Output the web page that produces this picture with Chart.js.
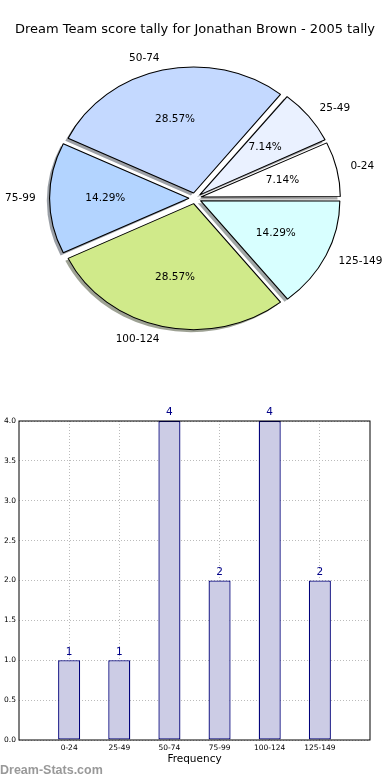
<!DOCTYPE html>
<html>
<head>
<meta charset="utf-8">
<script src="https://cdn.jsdelivr.net/npm/chart.js@4.4.1/dist/chart.umd.min.js"></script>
<style>
  html, body { margin: 0; padding: 0; background: #fff; }
  #page { position: relative; width: 390px; height: 780px; }
  .box { position: absolute; left: 0; width: 390px; }
  #pieBox { top: 0; height: 362px; }
  #barBox { top: 400px; height: 380px; }
  #brand { position: absolute; left: 0; top: 763px; font: bold 12.5px "Liberation Sans"; color: #999; }
</style>
</head>
<body>
<div id="page">
  <div class="box" id="pieBox"><canvas id="pieChart"></canvas></div>
  <div class="box" id="barBox"><canvas id="barChart"></canvas></div>
  <div id="brand">Dream-Stats.com</div>
</div>
<script>
const TITLE = 'Dream Team score tally for Jonathan Brown - 2005 tally';
const categories = ['0-24', '25-49', '50-74', '75-99', '100-124', '125-149'];
const counts = [1, 1, 4, 2, 4, 2];
const sliceColors = ['#FFFFFF', '#EAF1FF', '#C4D9FF', '#B3D4FF', '#D0EA8A', '#D8FFFF'];
const yTicks = [0, 0.5, 1, 1.5, 2, 2.5, 3, 3.5, 4];

Chart.defaults.font.family = '"DejaVu Sans"';
Chart.defaults.color = '#000';

const total = counts.reduce((a, b) => a + b, 0);

// chart.js goes clockwise, matplotlib counter-clockwise -> feed it reversed
const pieLabels = categories.slice().reverse();
const pieValues = counts.slice().reverse();
const pieColors = sliceColors.slice().reverse();

const PIE_RADIUS = 126;
const EXPLODE = 5.5;    // px along each slice's mid angle
const STRETCH = 1.106;  // the original axes were wider than tall

function pieCenter(chart) {
  const a = chart.chartArea;
  return { x: (a.left + a.right) / 2, y: (a.top + a.bottom) / 2 };
}

function shadowOf(hex) {
  const n = parseInt(hex.slice(1), 16);
  const r = Math.round(((n >> 16) & 255) * 0.3);
  const g = Math.round(((n >> 8) & 255) * 0.3);
  const b = Math.round((n & 255) * 0.3);
  return `rgba(${r},${g},${b},0.5)`;
}

const pieLook = {
  id: 'pieLook',
  afterDatasetUpdate(chart) {
    // chart.js grows narrow exploded slices, matplotlib doesn't
    chart.getDatasetMeta(0).data.forEach(arc => {
      const circ = arc.endAngle - arc.startAngle;
      arc.outerRadius = PIE_RADIUS - EXPLODE * (1 - Math.sin(Math.min(Math.PI, circ)));
    });
  },
  beforeDatasetsDraw(chart) {
    const ctx = chart.ctx;
    const c = pieCenter(chart);
    ctx.save();
    ctx.translate(c.x, c.y);
    ctx.scale(STRETCH, 1);
    ctx.translate(-c.x, -c.y);
    // drop shadow under all wedges
    chart.getDatasetMeta(0).data.forEach((arc, i) => {
      const mid = (arc.startAngle + arc.endAngle) / 2;
      const x = c.x + Math.cos(mid) * EXPLODE - 2.5;
      const y = c.y + Math.sin(mid) * EXPLODE + 2.5;
      ctx.fillStyle = shadowOf(pieColors[i]);
      ctx.beginPath();
      ctx.moveTo(x, y);
      ctx.arc(x, y, PIE_RADIUS, arc.startAngle, arc.endAngle);
      ctx.closePath();
      ctx.fill();
    });
  },
  afterDatasetsDraw(chart) {
    const ctx = chart.ctx;
    ctx.restore();
    const c = pieCenter(chart);
    ctx.save();
    ctx.fillStyle = '#000';
    ctx.textBaseline = 'middle';
    ctx.font = '10.5px "DejaVu Sans"';
    chart.getDatasetMeta(0).data.forEach((arc, i) => {
      const mid = (arc.startAngle + arc.endAngle) / 2;
      const cos = Math.cos(mid), sin = Math.sin(mid);
      const ox = c.x + cos * EXPLODE * STRETCH;
      const oy = c.y + sin * EXPLODE;
      const pct = (pieValues[i] / total * 100).toFixed(2) + '%';
      ctx.textAlign = 'center';
      ctx.fillText(pct, ox + cos * 0.6 * PIE_RADIUS * STRETCH, oy + sin * 0.6 * PIE_RADIUS);
      ctx.textAlign = cos > 0 ? 'left' : 'right';
      ctx.fillText(pieLabels[i], ox + cos * 1.1 * PIE_RADIUS * STRETCH, oy + sin * 1.1 * PIE_RADIUS);
    });
    ctx.restore();
  }
};

new Chart(document.getElementById('pieChart'), {
  type: 'pie',
  data: {
    labels: pieLabels,
    datasets: [{
      data: pieValues,
      backgroundColor: pieColors,
      borderColor: '#000',
      borderWidth: 1,
      offset: EXPLODE * 4,
      rotation: 90,
      radius: PIE_RADIUS
    }]
  },
  options: {
    responsive: true,
    maintainAspectRatio: false,
    animation: false,
    events: [],
    layout: { padding: { bottom: 3 } },
    plugins: {
      legend: { display: false },
      tooltip: { enabled: false },
      title: {
        display: true,
        text: TITLE,
        color: '#000',
        font: { size: 13, weight: 'normal' },
        padding: { top: 22, bottom: 0 }
      }
    }
  },
  plugins: [pieLook]
});

const barExtras = {
  id: 'barExtras',
  afterDraw(chart) {
    const ctx = chart.ctx;
    const a = chart.chartArea;
    ctx.save();
    ctx.strokeStyle = '#000';
    ctx.lineWidth = 1;
    ctx.strokeRect(a.left, a.top, a.right - a.left, a.bottom - a.top);
    ctx.fillStyle = '#000088';
    ctx.font = '10.5px "DejaVu Sans"';
    ctx.textAlign = 'center';
    ctx.textBaseline = 'bottom';
    chart.getDatasetMeta(0).data.forEach((bar, i) => {
      ctx.fillText(String(counts[i]), bar.x, bar.y - 3);
    });
    ctx.restore();
  }
};

const gridStyle = { color: '#bbbbbb', lineWidth: 1, drawTicks: false, offset: false };
const tickFont = { size: 7.5 };

new Chart(document.getElementById('barChart'), {
  type: 'bar',
  data: {
    datasets: [{
      data: counts.map((v, i) => ({ x: i, y: v })),
      backgroundColor: '#CCCCE5',
      borderColor: '#00007a',
      borderWidth: 1.3,
      borderSkipped: false,
      categoryPercentage: 1,
      barPercentage: 0.44
    }]
  },
  options: {
    responsive: true,
    maintainAspectRatio: false,
    animation: false,
    events: [],
    layout: { padding: { top: 21, right: 20, left: 0, bottom: 0 } },
    plugins: { legend: { display: false }, tooltip: { enabled: false } },
    scales: {
      x: {
        type: 'linear',
        min: -1,
        max: categories.length,
        offset: false,
        z: 1,
        afterBuildTicks: s => { s.ticks = categories.map((c, i) => ({ value: i })); },
        afterFit: s => { s.height = 40; },
        grid: gridStyle,
        border: { display: false, dash: [1, 2] },
        ticks: {
          padding: 4,
          font: tickFont,
          maxRotation: 0,
          autoSkip: false,
          callback: v => categories[v] ?? ''
        },
        title: {
          display: true,
          text: 'Frequency',
          font: { size: 10.5 },
          padding: { top: 0, bottom: 14 }
        }
      },
      y: {
        min: 0,
        max: 4,
        z: 1,
        afterBuildTicks: s => { s.ticks = yTicks.map(v => ({ value: v })); },
        afterFit: s => { s.width = 19; },
        grid: gridStyle,
        border: { display: false, dash: [1, 2] },
        ticks: { padding: 3, font: tickFont, callback: v => v.toFixed(1) }
      }
    }
  },
  plugins: [barExtras]
});
</script>
</body>
</html>
